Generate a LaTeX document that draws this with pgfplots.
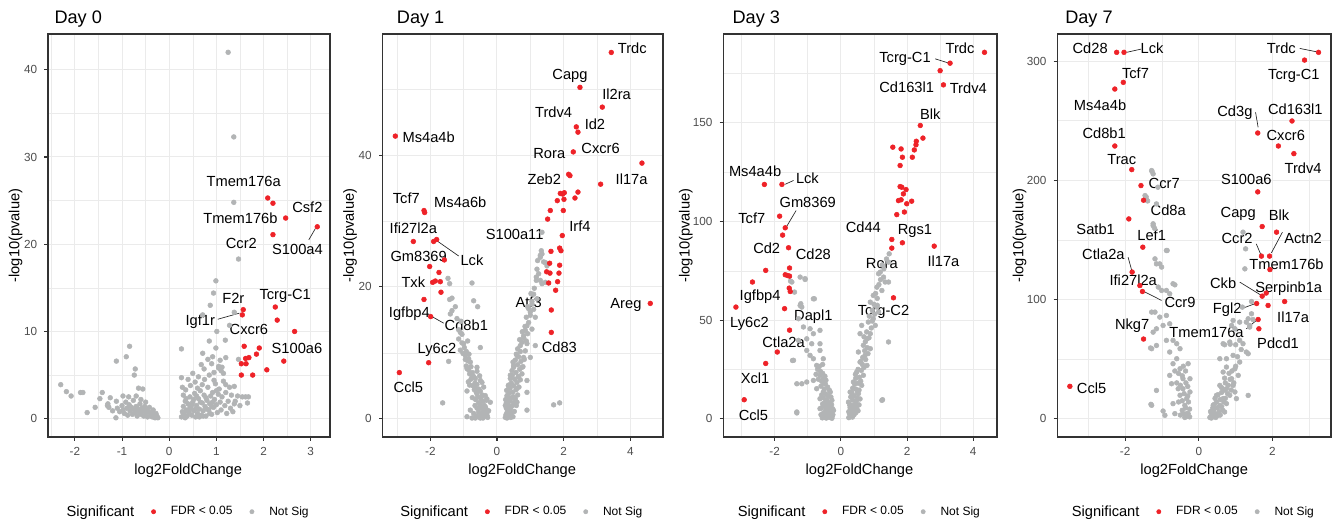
\documentclass[border=0pt]{standalone}
\usepackage{pgfplots}
\pgfplotsset{compat=1.18}
\usepackage{fontspec}
\setmainfont{Liberation Sans}
\definecolor{redpt}{RGB}{238,34,40}
\definecolor{greypt}{RGB}{178,180,181}
\definecolor{gridc}{RGB}{235,235,235}
\definecolor{framec}{RGB}{51,51,51}
\definecolor{tickc}{RGB}{77,77,77}
\newcommand{\lbl}{\fontsize{11}{13}\selectfont}
\tikzset{gl/.style={font=\lbl, inner sep=0pt, anchor=center},
         ld/.style={line width=0.5pt, draw=black!85}}
\pgfplotsset{
 volc/.style={
  scale only axis, height=302.25pt, clip=false,
  axis line style={draw=framec, line width=0.9pt},
  tick align=outside, major tick length=2.75pt, minor tick length=0pt,
  tick style={draw=framec, line width=0.8pt},
  tick pos=left,
  grid=both,
  major grid style={draw=gridc, line width=0.75pt},
  minor grid style={draw=gridc, line width=0.4pt},
  tick label style={font=\fontsize{8.8}{10}\selectfont, text=tickc},
  /pgf/number format/assume math mode=true,
  xticklabel style={anchor=north, inner sep=0pt, yshift=-4.5pt},
  yticklabel style={anchor=east, inner sep=0pt, xshift=-5.25pt},
  legend style={draw=none, fill=none, at={(0.495,-0.1854)}, anchor=center,
    legend columns=-1, column sep=0pt, font=\fontsize{9}{11}\selectfont,
    nodes={inner sep=0pt}},
  legend image code/.code={\path[draw=none,fill=none] (-14.5pt,0pt) -- (13pt,0pt); \draw[##1] plot coordinates {(0pt,0pt)};},
  gp/.style={only marks, mark=*, mark size=1.8pt, color=greypt, forget plot},
  rp/.style={only marks, mark=*, mark size=1.8pt, color=redpt, forget plot},
 }
}
\newcommand{\leg}{%
  \addlegendimage{empty legend}\addlegendentry{\lbl Significant}
  \addlegendimage{only marks, mark=*, mark size=1.6pt, color=redpt}\addlegendentry{FDR < 0.05}
  \addlegendimage{only marks, mark=*, mark size=1.6pt, color=greypt}\addlegendentry{Not Sig}}
\begin{document}
\begin{tikzpicture}
\begin{scope}[x=0.75pt,y=0.75pt]
\path[use as bounding box] (0,0) rectangle (1341,521);
\end{scope}
%================ Day 0
\begin{axis}[volc, at={(36pt,63pt)}, anchor=south west, width=211.5pt,
 xmin=-2.57,xmax=3.41,ymin=-2.1,ymax=44.1,
 xtick={-2,-1,0,1,2,3}, ytick={0,10,20,30,40},
 minor xtick={-2.5,-1.5,-0.5,0.5,1.5,2.5}, minor ytick={5,15,25,35}]
\addplot[gp] coordinates {(1.25,42.0)(1.37,32.3)(1.37,24.8)(1.47,18.3)(0.99,15.8)(0.94,14.4)(0.87,13.0)(1.38,12.2)(0.71,11.9)(1.28,10.7)(1.01,10.0)(1.19,9.0)(0.85,8.9)(0.26,8.0)(0.99,8.1)(0.71,7.5)(0.92,7.1)(1.47,6.8)(0.26,4.7)
(-0.84,8.3)(-0.91,7.1)(-1.12,6.6)(-0.72,5.7)(-0.74,5.0)(-0.56,3.4)(-0.65,3.5)(-2.30,3.9)(-2.18,3.1)(-2.08,2.6)(-1.88,3.0)(-1.83,3.0)(-1.74,0.7)(-1.57,1.3)(-1.47,2.3)(-1.42,3.0)(-1.31,1.5)(-0.98,2.6)(-1.13,0.1)(-1.30,1.7)(-1.28,1.3)
(0.74,5.7)(1.10,5.5)(1.05,5.8)(1.15,5.2)(1.38,3.7)(1.45,2.6)(1.55,2.5)(1.62,2.5)(1.68,2.5)(1.50,1.5)(1.66,1.8)(1.38,1.7)(1.20,3.9)(0.95,4.4)
(-1.12,2.0)(-1.10,1.2)(-1.05,0.8)(-1.0,1.5)(-0.98,1.0)(-0.95,0.6)(-0.92,1.9)(-0.90,1.2)(-0.88,0.4)(-0.85,1.6)(-0.83,0.9)(-0.80,1.3)(-0.78,0.5)(-0.76,2.1)(-0.74,1.0)(-0.72,0.7)(-0.70,1.4)(-0.68,0.3)(-0.66,1.1)(-0.64,0.8)(-0.62,1.7)(-0.60,0.5)(-0.58,1.2)(-0.56,0.9)(-0.54,0.3)(-0.52,1.4)(-0.50,0.6)(-0.48,1.0)(-0.46,0.2)(-0.44,0.8)(-0.42,1.3)(-0.40,0.4)(-0.38,0.7)(-0.36,0.2)(-0.34,1.0)(-0.32,0.5)(-0.30,0.1)(-0.28,0.6)(-0.26,0.3)(-0.24,0.1)(-0.70,2.6)(-0.60,2.2)(-0.50,1.9)(-0.86,2.5)(-1.20,0.9)(-1.25,2.4)
(0.26,0.2)(0.28,0.8)(0.30,1.4)(0.32,0.5)(0.34,2.0)(0.36,1.0)(0.38,0.3)(0.40,1.7)(0.42,0.7)(0.44,2.5)(0.46,1.2)(0.48,0.4)(0.50,1.9)(0.52,0.9)(0.54,2.9)(0.56,0.2)(0.58,1.5)(0.60,0.6)(0.62,2.3)(0.64,1.1)(0.66,3.2)(0.68,0.4)(0.70,1.8)(0.72,0.9)(0.74,2.7)(0.76,1.4)(0.78,0.3)(0.80,2.1)(0.82,3.6)(0.84,1.0)(0.86,1.7)(0.88,2.6)(0.90,0.5)(0.92,3.0)(0.94,1.3)(0.96,2.2)(0.98,4.0)(1.00,1.6)(1.02,0.7)(1.04,2.8)(1.06,3.4)(1.08,1.9)(1.10,1.0)(1.12,2.5)(1.15,4.3)(1.18,1.5)(1.20,3.0)(1.22,0.6)(1.25,2.0)(1.28,3.6)(1.30,1.2)(0.35,3.3)(0.45,3.8)(0.55,4.2)(0.62,4.8)(0.50,5.2)(0.40,4.5)(0.75,4.5)(0.85,5.0)(0.95,5.3)(1.05,6.0)(0.30,2.7)(0.28,3.6)(0.60,3.5)(0.70,3.9)(0.52,2.2)(0.36,2.3)(0.44,1.3)(0.58,2.6)(0.66,1.9)(0.78,2.4)(0.86,0.6)(0.92,1.9)(1.00,3.2)(1.35,0.8)(1.40,2.0)(1.32,2.7)(0.30,0.6)(0.34,0.1)(0.40,0.9)(0.48,1.6)(0.56,1.1)(0.64,0.2)(0.72,0.3)(0.80,1.1)(0.90,1.4)(0.82,6.8)(0.90,6.3)(1.08,6.7)(1.12,5.9)(0.68,6.2)(1.20,7.0)};
\addplot[rp] coordinates {(2.09,25.3)(2.20,24.7)(2.47,23.0)(3.14,22.0)(2.20,21.1)(1.57,12.5)(1.55,11.9)(2.25,12.8)(2.29,11.3)(2.66,10.0)(1.59,8.3)(1.91,8.1)(1.85,7.4)(1.69,7.0)(1.62,6.9)(1.53,6.3)(1.63,6.3)(2.43,6.6)(2.07,5.6)(1.53,5.0)(1.77,5.0)};
\leg
\node[gl] at (axis cs:1.58,27.2) {Tmem176a};
\node[gl] at (axis cs:1.51,23.0) {Tmem176b};
\node[gl] at (axis cs:2.93,24.2) {Csf2};
\node[gl] at (axis cs:1.53,20.1) {Ccr2};
\node[gl] at (axis cs:2.72,19.4) {S100a4};
\node[gl] at (axis cs:1.36,13.8) {F2r};
\node[gl] at (axis cs:2.46,14.1) {Tcrg-C1};
\node[gl] at (axis cs:0.66,11.1) {Igf1r};
\node[gl] at (axis cs:1.69,10.2) {Cxcr6};
\node[gl] at (axis cs:2.71,8.0) {S100a6};
\draw[ld] (axis cs:2.96,20.5) -- (axis cs:3.10,21.8);
\draw[ld] (axis cs:1.03,11.4) -- (axis cs:1.49,12.1);
\end{axis}
%================ Day 1
\begin{axis}[volc, at={(287pt,63pt)}, anchor=south west, width=210.2pt,
 xmin=-3.43,xmax=4.98,ymin=-2.78,ymax=58.4,
 xtick={-2,0,2,4}, ytick={0,20,40},
 minor xtick={-3,-1,1,3}, minor ytick={10,30,50}]
\addplot[gp] coordinates {(-1.47,21.3)(-1.42,20.5)(-0.75,20.6)(-1.42,18.1)(-1.35,18.3)(-0.70,17.9)(-0.58,17.0)(-1.35,16.4)(-1.40,15.9)(-1.10,13.1)(-1.15,12.1)(-1.00,11.4)(-0.50,10.8)(-1.10,10.4)(-0.95,9.6)(-0.85,9.1)(-1.45,8.7)(-0.80,8.6)(-0.90,7.6)(-0.60,7.8)(-0.75,6.6)(-0.65,6.1)(-0.50,5.8)(-0.82,5.1)(-0.65,4.6)(-0.60,3.8)(-0.45,3.5)(-0.30,3.0)(-0.20,2.5)(-0.35,1.8)(-1.63,2.4)(-0.55,1.5)(-0.45,0.8)(-0.30,0.5)(-0.90,0.3)(-0.75,0.1)(-0.50,0.1)(-0.65,0.1)
(-1.05,11.5)(-0.98,10.8)(-1.02,9.9)(-0.92,10.2)(-0.95,9.0)(-0.88,8.8)(-0.84,9.8)(-0.92,8.0)(-0.85,7.4)(-0.78,7.9)(-0.82,6.8)(-0.74,7.0)(-0.70,6.4)(-0.78,6.0)(-0.66,5.4)(-0.72,5.0)(-0.60,5.2)(-0.68,4.4)(-0.55,4.5)(-0.62,4.0)(-0.50,4.2)(-0.58,3.3)(-0.48,3.0)(-0.64,2.9)(-0.42,2.6)(-0.55,2.4)(-0.38,2.0)(-0.50,2.0)(-0.45,1.6)(-0.60,1.6)(-0.33,1.5)(-0.40,1.1)(-0.55,1.0)(-0.30,0.9)(-0.48,0.6)(-0.36,0.4)(-0.62,0.4)(-0.28,0.2)(-0.42,0.1)(-0.52,0.3)(-0.70,0.8)(-0.80,1.3)(-0.35,3.5)(-0.40,4.8)(-0.52,6.5)(-0.60,7.2)(-0.45,5.5)(-1.15,13.5)(-1.08,14.8)(-1.20,15.2)(-1.25,17.0)(-1.05,12.8)(-0.88,11.8)(-0.25,1.2)(-0.32,2.8)(-0.44,3.6)(-0.66,2.0)(-0.74,3.2)(-0.86,5.6)(-0.90,4.2)
(1.35,25.0)(1.30,24.5)(1.45,23.7)(1.50,23.2)(1.20,22.7)(1.18,21.0)(1.35,20.5)(1.45,20.7)(1.10,18.9)(1.20,18.2)(1.05,17.4)(0.95,16.7)(1.00,15.7)(1.15,15.4)(0.90,14.1)(0.85,13.4)(1.05,13.6)(0.80,12.6)(0.70,11.1)(0.90,11.4)(1.15,11.1)(0.60,9.6)(0.80,9.3)(1.00,9.3)(0.50,8.1)(0.75,7.8)(0.40,6.6)(0.65,6.3)(0.90,5.8)(0.35,5.1)(0.60,4.6)(0.30,3.5)(0.50,3.3)(0.90,4.0)(0.25,2.0)(0.40,1.5)(0.60,2.5)(0.30,0.5)(0.45,0.3)(0.90,1.3)(1.70,2.1)(1.88,2.4)(1.35,28.3)(1.30,24.8)
(0.25,0.2)(0.30,0.9)(0.28,1.6)(0.35,0.5)(0.33,2.2)(0.38,1.3)(0.26,2.9)(0.42,0.8)(0.40,2.7)(0.31,3.4)(0.45,1.9)(0.36,3.9)(0.48,0.3)(0.44,3.2)(0.29,4.3)(0.50,2.4)(0.39,4.6)(0.52,1.1)(0.47,4.0)(0.34,5.0)(0.55,3.0)(0.43,5.4)(0.58,2.0)(0.50,5.0)(0.40,6.1)(0.57,4.4)(0.46,6.6)(0.62,3.6)(0.53,6.0)(0.45,7.3)(0.60,5.5)(0.50,7.8)(0.66,4.8)(0.57,7.0)(0.48,8.6)(0.64,6.4)(0.55,8.9)(0.70,5.9)(0.62,8.2)(0.58,9.8)(0.68,7.5)(0.75,6.8)(0.65,9.4)(0.72,8.7)(0.62,10.6)(0.78,7.9)(0.70,10.2)(0.82,9.0)(0.75,11.6)(0.85,10.3)(0.68,12.0)(0.80,12.3)(0.88,11.8)(0.76,13.2)(0.92,12.9)(0.84,14.0)(0.95,14.6)(0.88,15.4)(1.00,16.2)(0.92,17.0)(1.05,17.8)(1.10,16.6)(1.02,19.0)(1.12,19.8)(1.18,21.5)(1.25,22.0)(1.30,21.0)(1.22,24.0)(1.40,23.8)(1.33,25.5)(0.30,0.1)(0.27,0.6)(0.33,0.3)(0.36,1.8)(0.41,0.2)(0.32,1.2)(0.28,2.4)(0.37,2.9)(0.34,3.0)};
\addplot[rp] coordinates {(3.43,55.6)(2.49,50.3)(3.16,47.3)(2.38,44.3)(2.43,43.5)(-3.05,42.9)(2.29,40.5)(4.35,38.8)(2.15,37.1)(2.19,36.9)(3.11,35.6)(1.90,34.2)(2.02,34.3)(1.97,34.1)(2.43,34.4)(1.81,33.1)(2.01,33.3)(2.34,33.5)(1.60,31.6)(1.99,31.6)(1.52,30.3)(1.96,27.8)(-2.19,31.6)(-2.17,31.3)(-2.51,26.9)(-1.90,26.9)(-1.81,27.2)(1.62,25.4)(1.88,25.9)(1.92,25.5)(-1.58,24.1)(-2.02,23.1)(-1.74,22.2)(-1.93,20.7)(-1.85,20.9)(-1.70,20.8)(-1.68,19.2)(-2.19,18.1)(-1.99,15.5)(-2.05,8.5)(-2.93,7.0)(4.60,17.5)(1.58,23.6)(1.88,23.3)(1.49,22.3)(1.59,22.1)(1.86,22.1)(1.55,20.6)(1.82,20.8)(1.76,19.5)(1.63,16.5)(1.63,13.1)};
\leg
\node[gl] at (axis cs:4.06,56.2) {Trdc};
\node[gl] at (axis cs:2.19,52.1) {Capg};
\node[gl] at (axis cs:3.59,49.2) {Il2ra};
\node[gl] at (axis cs:1.70,46.5) {Trdv4};
\node[gl] at (axis cs:2.94,44.7) {Id2};
\node[gl] at (axis cs:-2.05,42.7) {Ms4a4b};
\node[gl] at (axis cs:3.11,41.0) {Cxcr6};
\node[gl] at (axis cs:1.57,40.2) {Rora};
\node[gl] at (axis cs:4.04,36.3) {Il17a};
\node[gl] at (axis cs:1.42,36.3) {Zeb2};
\node[gl] at (axis cs:-2.72,33.4) {Tcf7};
\node[gl] at (axis cs:-1.10,32.8) {Ms4a6b};
\node[gl] at (axis cs:-2.51,28.9) {Ifi27l2a};
\node[gl] at (axis cs:2.49,29.2) {Irf4};
\node[gl] at (axis cs:0.53,28.0) {S100a11};
\node[gl] at (axis cs:-2.35,24.6) {Gm8369};
\node[gl] at (axis cs:-0.75,24.1) {Lck};
\node[gl] at (axis cs:-2.51,20.7) {Txk};
\node[gl] at (axis cs:0.95,17.6) {Atf3};
\node[gl] at (axis cs:3.87,17.2) {Areg};
\node[gl] at (axis cs:-2.63,15.9) {Igfbp4};
\node[gl] at (axis cs:-0.92,14.2) {Cd8b1};
\node[gl] at (axis cs:1.87,10.8) {Cd83};
\node[gl] at (axis cs:-1.80,10.5) {Ly6c2};
\node[gl] at (axis cs:-2.66,4.8) {Ccl5};
\draw[ld] (axis cs:-1.80,27.0) -- (axis cs:-1.15,24.7);
\draw[ld] (axis cs:-1.95,15.5) -- (axis cs:-1.60,14.5);
\end{axis}
%================ Day 3
\begin{axis}[volc, at={(542.5pt,63pt)}, anchor=south west, width=205.3pt,
 xmin=-3.55,xmax=4.72,ymin=-9.3,ymax=195.1,
 xtick={-2,0,2,4}, ytick={0,50,100,150},
 minor xtick={-3,-1,1,3}, minor ytick={25,75,125,175}]
\addplot[gp] coordinates {(-1.48,69.3)(-1.23,71.8)(-1.08,71.0)(-1.21,58.3)(-0.83,60.8)(-1.18,56.6)(-1.13,46.5)(-0.93,45.6)(-0.83,43.1)(-0.63,44.8)(-1.28,39.7)(-1.03,40.5)(-0.88,38.0)(-0.63,38.0)(-1.03,34.6)(-0.93,32.1)(-0.63,34.6)(-0.83,30.4)(-0.53,30.4)(-1.43,29.6)(-0.73,27.0)(-1.33,17.7)(-1.18,17.7)(-1.03,18.6)(-0.83,19.4)(-0.63,22.0)(-0.53,20.3)(-0.47,17.7)(-0.73,15.2)(-0.53,13.5)(-0.32,13.5)(-0.63,10.1)(-0.47,8.4)(-0.27,9.3)(-0.63,5.1)(-0.42,4.2)(-0.22,4.2)(-0.37,0.8)(-0.53,1.7)(-0.27,0.2)(-1.33,3.4)(-1.52,69.8)(-1.08,70.6)(-1.40,64.2)(-1.23,57.4)(-0.80,60.8)(-1.28,50.7)(-1.46,29.5)(-1.33,2.9)
(-0.62,24.0)(-0.55,23.0)(-0.48,21.5)(-0.58,19.0)(-0.45,19.5)(-0.40,16.0)(-0.60,16.5)(-0.50,15.0)(-0.35,14.5)(-0.45,12.5)(-0.58,12.0)(-0.38,11.5)(-0.30,11.0)(-0.52,10.5)(-0.42,9.5)(-0.35,8.0)(-0.55,7.5)(-0.28,7.0)(-0.48,6.5)(-0.40,6.0)(-0.33,5.5)(-0.58,5.5)(-0.25,5.0)(-0.45,4.5)(-0.36,3.5)(-0.52,3.0)(-0.30,2.8)(-0.44,2.2)(-0.24,2.0)(-0.60,2.0)(-0.38,1.5)(-0.50,0.8)(-0.32,0.6)(-0.44,0.3)(-0.26,1.2)(-0.56,0.4)(-0.40,7.2)(-0.50,18.0)(-0.65,26.5)(-0.70,25.0)(-0.75,22.5)(-0.68,20.0)(-0.55,27.5)
(1.19,74.3)(1.29,71.8)(1.34,69.3)(1.09,66.7)(1.24,65.0)(0.98,62.5)(0.89,59.1)(1.09,56.6)(1.14,54.1)(0.98,50.7)(0.83,49.0)(0.63,47.3)(1.04,47.3)(0.89,43.1)(0.79,40.5)(0.58,43.1)(0.68,37.2)(0.89,35.5)(1.44,38.9)(0.53,33.8)(0.73,32.1)(0.58,28.7)(0.79,27.0)(0.48,23.7)(0.68,22.0)(0.38,18.6)(0.63,16.9)(0.28,13.5)(0.53,12.7)(0.23,8.4)(0.43,7.6)(0.28,4.2)(0.48,5.1)(1.24,9.3)(0.33,13.5)(1.46,83.6)(1.44,79.4)(1.14,73.5)(1.44,69.3)(1.26,9.6)
(0.24,0.5)(0.30,1.2)(0.26,2.5)(0.35,0.8)(0.33,3.2)(0.40,2.0)(0.28,5.5)(0.38,4.8)(0.45,3.0)(0.30,7.0)(0.42,6.5)(0.52,4.0)(0.35,9.5)(0.47,9.0)(0.55,7.0)(0.30,11.0)(0.40,11.5)(0.50,10.5)(0.58,10.0)(0.36,15.5)(0.45,15.0)(0.55,14.5)(0.42,17.5)(0.52,18.0)(0.60,19.0)(0.45,20.5)(0.56,21.0)(0.62,24.5)(0.52,25.0)(0.70,26.0)(0.60,29.0)(0.66,31.0)(0.75,30.0)(0.72,34.5)(0.80,36.0)(0.74,39.0)(0.85,41.0)(0.78,44.0)(0.92,46.0)(0.86,52.0)(0.95,55.0)(1.02,53.0)(1.00,58.0)(1.10,61.0)(1.05,63.5)(1.15,68.0)(1.20,70.5)(1.30,76.0)(1.25,78.0)(1.38,81.0)(0.24,3.5)(0.27,6.8)(0.34,12.5)(0.50,13.0)(0.44,22.5)(0.65,27.5)(0.82,33.0)(0.70,41.5)(0.95,49.5)(1.10,57.5)};
\addplot[rp] coordinates {(4.34,185.8)(3.30,180.3)(3.00,176.5)(3.10,169.3)(2.40,148.7)(2.48,142.3)(2.28,140.7)(2.27,138.9)(2.22,136.3)(2.16,132.6)(1.57,137.7)(1.82,136.8)(1.86,132.6)(1.79,128.4)(1.79,117.7)(1.84,117.4)(1.97,116.2)(1.89,114.0)(1.74,110.6)(1.82,111.0)(1.99,109.0)(2.14,110.3)(1.92,104.8)(1.69,103.5)(-2.31,118.8)(-1.78,118.8)(-1.85,102.7)(-1.68,96.8)(-1.76,93.1)(-1.58,86.7)(1.54,90.9)(1.54,86.5)(1.86,89.2)(2.82,87.5)(-2.27,75.2)(-1.55,76.4)(-1.68,73.0)(-1.61,72.6)(-1.55,72.3)(-2.67,69.3)(-1.56,66.2)(-1.53,64.5)(-3.17,56.6)(-1.70,55.8)(-1.55,44.9)(-1.92,33.8)(-2.27,28.0)(-2.92,9.6)(1.59,61.3)};
\leg
\node[gl] at (axis cs:3.60,187.9) {Trdc};
\node[gl] at (axis cs:1.94,182.5) {Tcrg-C1};
\node[gl] at (axis cs:1.99,168.1) {Cd163l1};
\node[gl] at (axis cs:3.85,167.6) {Trdv4};
\node[gl] at (axis cs:2.70,154.6) {Blk};
\node[gl] at (axis cs:-2.59,125.3) {Ms4a4b};
\node[gl] at (axis cs:-1.01,122.0) {Lck};
\node[gl] at (axis cs:-1.00,109.5) {Gm8369};
\node[gl] at (axis cs:-2.69,101.4) {Tcf7};
\node[gl] at (axis cs:-2.24,86.2) {Cd2};
\node[gl] at (axis cs:0.68,97.2) {Cd44};
\node[gl] at (axis cs:2.24,95.4) {Rgs1};
\node[gl] at (axis cs:-0.83,83.6) {Cd28};
\node[gl] at (axis cs:1.24,78.6) {Rora};
\node[gl] at (axis cs:3.10,79.7) {Il17a};
\node[gl] at (axis cs:-2.44,61.7) {Igfbp4};
\node[gl] at (axis cs:1.29,54.1) {Tcrg-C2};
\node[gl] at (axis cs:-0.83,51.5) {Dapl1};
\node[gl] at (axis cs:-2.76,48.1) {Ly6c2};
\node[gl] at (axis cs:-1.73,38.5) {Ctla2a};
\node[gl] at (axis cs:-2.59,20.3) {Xcl1};
\node[gl] at (axis cs:-2.64,1.7) {Ccl5};
\draw[ld] (axis cs:2.85,182.5) -- (axis cs:3.25,180.4);
\draw[ld] (axis cs:-1.43,120.8) -- (axis cs:-1.68,118.9);
\draw[ld] (axis cs:-1.35,105.6) -- (axis cs:-1.63,97.7);
\end{axis}
%================ Day 7
\begin{axis}[volc, at={(793pt,63pt)}, anchor=south west, width=205.3pt,
 xmin=-3.84,xmax=3.59,ymin=-15.4,ymax=322.8,
 xtick={-2,0,2}, ytick={0,100,200,300},
 minor xtick={-3,-1,1,3}, minor ytick={50,150,250}]
\addplot[gp] coordinates {(-1.28,208.2)(-1.24,205.4)(-1.46,187.2)(-1.42,183.7)(-1.24,163.5)(-0.88,141.1)(-1.19,134.1)(-1.06,129.9)(-1.01,127.2)(-1.10,110.4)(-1.01,107.6)(-0.88,107.6)(-0.79,104.8)(-0.70,113.2)(-1.19,89.4)(-1.06,85.2)(-0.88,86.6)(-0.79,79.6)(-0.97,78.2)(-1.24,72.6)(-0.88,65.7)(-0.70,65.7)(-0.60,62.9)(-0.51,58.7)(-1.28,58.7)(-0.79,55.9)(-0.60,50.3)(-0.70,46.1)(-0.51,41.9)(-0.29,46.1)(-0.43,33.5)(-0.24,33.5)(-0.79,36.3)(-0.56,25.1)(-0.43,25.1)(-0.24,22.4)(-0.51,19.6)(-0.33,16.8)(-0.38,11.2)(-0.43,4.2)(-0.29,4.2)(-1.28,11.2)(-0.70,12.6)(-0.92,2.8)(-0.74,29.3)(-1.15,23.7)
(-1.27,207.5)(-1.11,194.2)(-1.43,186.1)(-1.39,182.7)(-1.15,180.2)(-1.24,162.0)(-1.20,159.7)(-0.86,141.1)(-1.15,129.9)(-0.65,112.3)(-1.28,89.4)(-1.15,75.4)(-1.31,59.3)(-1.15,61.4)(-1.30,12.0)(-0.97,6.4)(-0.65,4.2)(-0.33,4.2)
(-0.55,38.0)(-0.45,36.0)(-0.35,30.0)(-0.50,28.0)(-0.30,27.0)(-0.40,21.0)(-0.30,19.0)(-0.45,15.0)(-0.28,14.0)(-0.36,9.0)(-0.25,8.0)(-0.45,7.0)(-0.30,2.0)(-0.38,1.0)(-0.25,1.5)(-0.50,3.0)(-0.55,14.0)(-0.60,30.0)(-0.65,40.0)(-0.42,44.0)(-0.36,40.0)
(1.20,156.5)(1.25,125.7)(1.18,93.6)(1.11,81.0)(0.93,82.4)(0.89,78.2)(1.29,81.0)(1.34,83.8)(1.38,78.2)(0.66,62.9)(0.84,64.3)(1.11,65.7)(1.20,62.9)(1.29,55.9)(0.57,50.3)(0.75,50.3)(0.93,53.1)(0.75,43.3)(0.98,41.9)(1.11,47.5)(0.66,39.1)(0.89,33.5)(1.07,36.3)(0.57,27.9)(0.75,25.1)(0.93,27.9)(0.48,19.6)(0.66,16.8)(0.84,19.6)(0.39,11.2)(0.57,11.2)(0.75,12.6)(0.34,4.2)(0.52,2.8)(0.70,5.6)(0.98,22.4)(1.02,16.8)
(1.27,142.5)(1.43,98.3)(1.47,83.2)(1.43,88.0)(1.38,76.9)(0.98,75.4)(0.70,62.0)(0.85,62.5)(1.00,62.0)(1.34,54.5)(1.34,19.5)
(0.30,1.0)(0.36,2.0)(0.32,6.0)(0.40,7.0)(0.45,4.0)(0.42,12.0)(0.50,9.0)(0.55,6.0)(0.48,14.0)(0.58,16.0)(0.62,10.0)(0.52,20.0)(0.62,22.0)(0.68,14.0)(0.70,24.0)(0.78,21.0)(0.72,30.0)(0.80,28.0)(0.85,33.0)(0.82,38.0)(0.90,40.0)(0.62,26.0)(0.44,17.0)(0.38,9.0)(0.34,0.5)(0.46,1.0)(0.58,3.0)(0.65,7.0)(0.72,17.0)(0.88,24.0)(0.95,30.0)(1.00,44.0)(0.70,34.0)(1.05,52.0)(1.15,58.0)};
\addplot[rp] coordinates {(-2.23,307.4)(-2.03,307.4)(3.25,307.4)(2.87,300.9)(-2.05,282.2)(-2.28,276.6)(2.53,249.8)(1.60,239.7)(2.16,228.8)(2.58,222.4)(-2.28,228.8)(-1.82,209.0)(-1.57,195.6)(-1.50,183.3)(-1.90,167.6)(-1.52,143.9)(1.60,190.3)(1.72,161.2)(2.11,156.5)(1.70,136.4)(1.92,136.4)(1.93,125.1)(-1.81,123.0)(-1.60,111.7)(-1.53,106.7)(1.72,102.8)(1.83,105.4)(2.33,98.3)(1.57,96.6)(1.88,95.0)(1.61,83.2)(1.63,75.4)(-1.50,66.8)(-3.50,27.1)};
\leg
\node[gl] at (axis cs:-2.95,310.7) {Cd28};
\node[gl] at (axis cs:-1.27,310.7) {Lck};
\node[gl] at (axis cs:2.24,310.7) {Trdc};
\node[gl] at (axis cs:-1.72,290.0) {Tcf7};
\node[gl] at (axis cs:2.58,287.3) {Tcrg-C1};
\node[gl] at (axis cs:-2.68,263.2) {Ms4a4b};
\node[gl] at (axis cs:2.62,259.9) {Cd163l1};
\node[gl] at (axis cs:0.98,257.1) {Cd3g};
\node[gl] at (axis cs:-2.57,239.4) {Cd8b1};
\node[gl] at (axis cs:2.36,237.5) {Cxcr6};
\node[gl] at (axis cs:-2.09,217.4) {Trac};
\node[gl] at (axis cs:2.83,210.1) {Trdv4};
\node[gl] at (axis cs:1.29,200.6) {S100a6};
\node[gl] at (axis cs:-0.94,197.0) {Ccr7};
\node[gl] at (axis cs:-0.83,175.2) {Cd8a};
\node[gl] at (axis cs:1.07,171.8) {Capg};
\node[gl] at (axis cs:2.18,171.0) {Blk};
\node[gl] at (axis cs:-2.80,159.3) {Satb1};
\node[gl] at (axis cs:-1.28,153.6) {Lef1};
\node[gl] at (axis cs:1.04,150.9) {Ccr2};
\node[gl] at (axis cs:2.83,151.5) {Actn2};
\node[gl] at (axis cs:-2.59,138.3) {Ctla2a};
\node[gl] at (axis cs:2.38,129.9) {Tmem176b};
\node[gl] at (axis cs:-1.78,115.9) {Ifi27l2a};
\node[gl] at (axis cs:0.66,113.7) {Ckb};
\node[gl] at (axis cs:2.44,109.0) {Serpinb1a};
\node[gl] at (axis cs:-0.51,97.2) {Ccr9};
\node[gl] at (axis cs:0.77,91.6) {Fgl2};
\node[gl] at (axis cs:2.56,85.2) {Il17a};
\node[gl] at (axis cs:-1.81,77.7) {Nkg7};
\node[gl] at (axis cs:0.21,72.1) {Tmem176a};
\node[gl] at (axis cs:2.15,62.9) {Pdcd1};
\node[gl] at (axis cs:-2.91,25.7) {Ccl5};
\draw[ld] (axis cs:-1.57,310.1) -- (axis cs:-1.96,307.4);
\draw[ld] (axis cs:2.74,310.7) -- (axis cs:3.19,307.9);
\draw[ld] (axis cs:1.54,257.1) -- (axis cs:1.61,244.5);
\draw[ld] (axis cs:1.56,146.7) -- (axis cs:1.70,136.4);
\draw[ld] (axis cs:2.27,156.5) -- (axis cs:1.97,139.1);
\draw[ld] (axis cs:-1.92,135.5) -- (axis cs:-1.82,124.3);
\draw[ld] (axis cs:1.11,114.6) -- (axis cs:1.70,103.4);
\draw[ld] (axis cs:-1.01,99.2) -- (axis cs:-1.46,106.2);
\draw[ld] (axis cs:1.20,92.8) -- (axis cs:1.52,96.4);
\draw[ld] (axis cs:1.29,75.4) -- (axis cs:1.56,82.4);
\end{axis}
%================ titles and axis titles
\begin{scope}[x=0.75pt,y=0.75pt]
\foreach \tx/\tt in {54.3/Day 0, 396.7/Day 1, 732.3/Day 3, 1065/Day 7}
  \node[anchor=base west, inner sep=0pt, font=\fontsize{13.6}{16}\selectfont] at (\tx,497) {\tt};
\foreach \cx in {188.2, 522.2, 859.5, 1194.2}
  \node[anchor=base, inner sep=0pt, font=\lbl] at (\cx,47) {log2FoldChange};
\foreach \cx in {15.5, 350, 685.8, 1019.5}
  \node[rotate=90, inner sep=0pt, font=\lbl] at (\cx,285.5) {-log10(pvalue)};
\end{scope}
\end{tikzpicture}
\end{document}
